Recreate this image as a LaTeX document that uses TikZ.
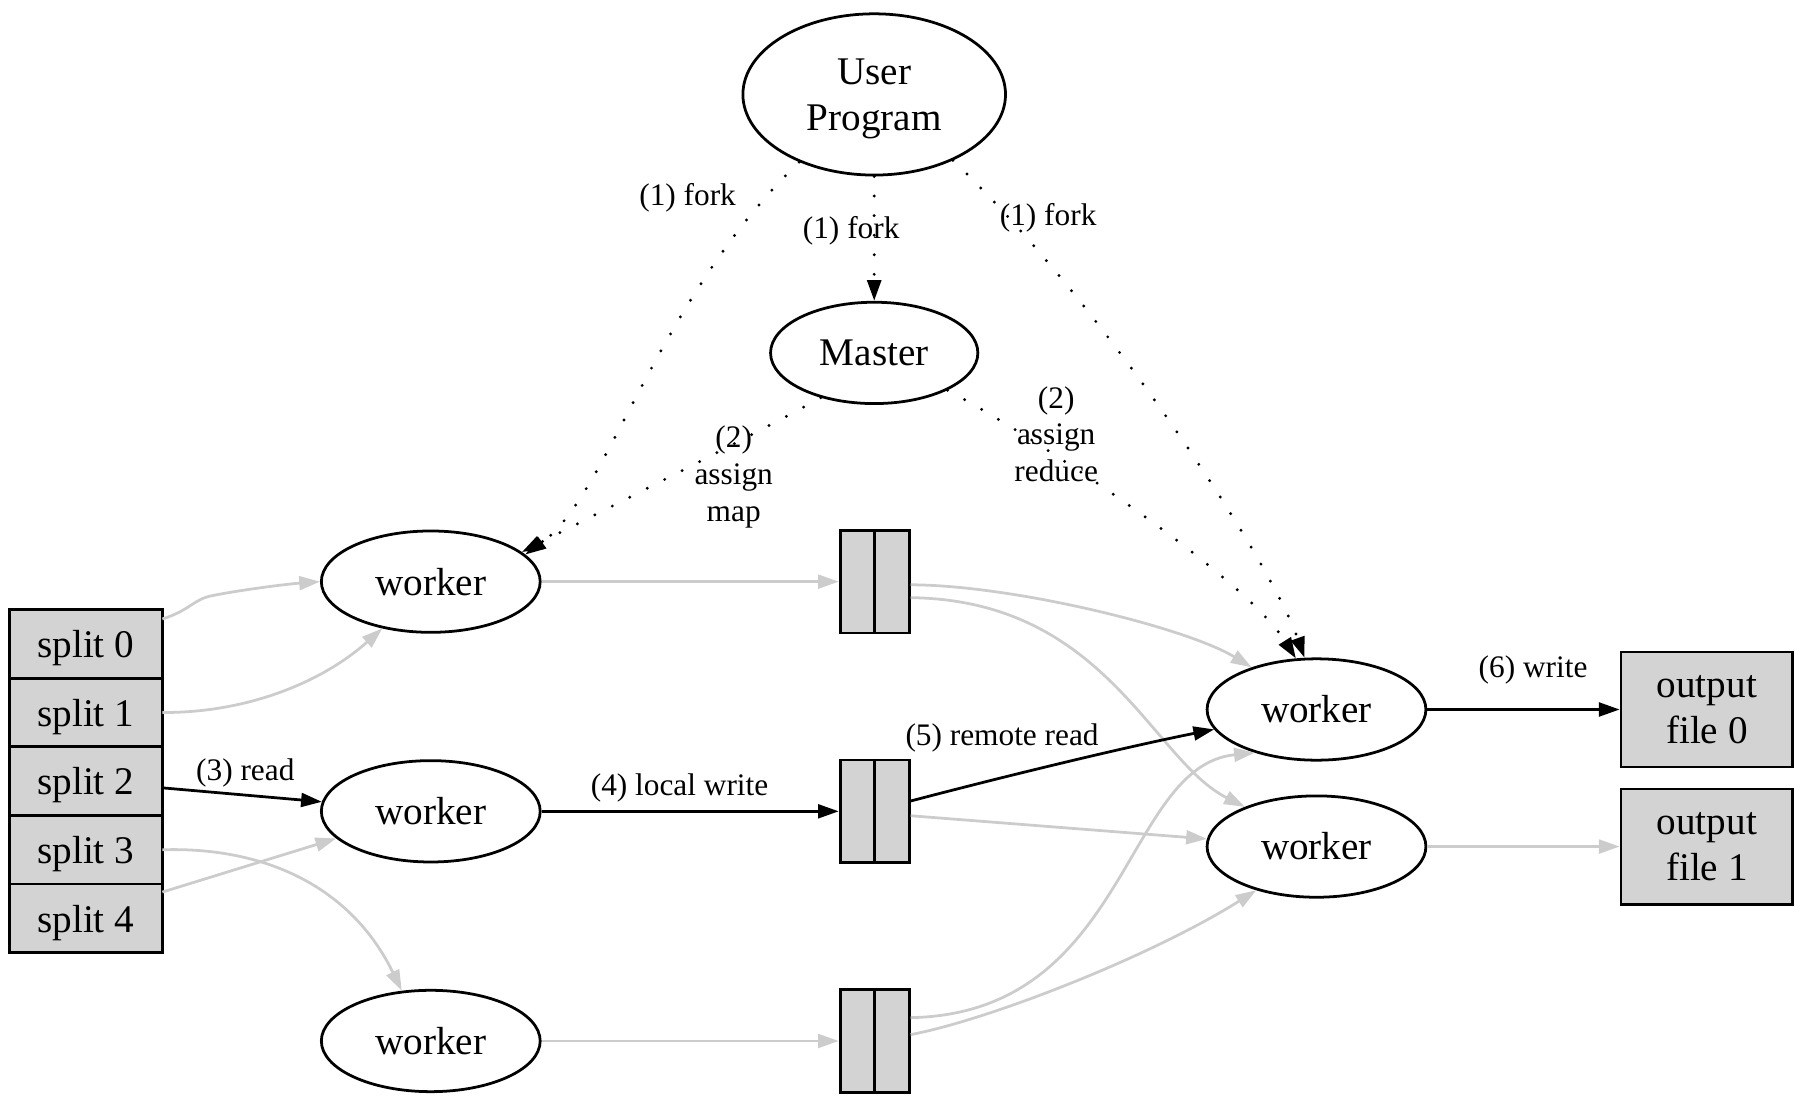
\documentclass[tikz,border=0pt]{standalone}
\usepackage{fontspec}
\setmainfont{Liberation Serif}
\usepackage{tikz}
\usetikzlibrary{positioning,shapes,arrows.meta}
\usepackage{xcolor}

\definecolor{boxgray}{RGB}{211,211,211}
\definecolor{edgegray}{RGB}{204,204,204}
\newcommand\nodetxt{\fontsize{17}{20}\selectfont}
\newcommand\edgetxt{\fontsize{13.6}{16}\selectfont}

\tikzset{
  proc/.style={ellipse, draw, line width=1.2pt, minimum width=95pt, minimum height=44pt, inner sep=0pt, font=\nodetxt},
  buf/.style={rectangle, draw, fill=boxgray, line width=1.2pt, minimum width=30pt, minimum height=44.5pt, inner sep=0pt},
  split/.style={rectangle, draw, fill=boxgray, line width=1.2pt, minimum width=66.5pt, minimum height=29.8pt, inner sep=0pt, outer sep=0pt, text depth=0pt, font=\nodetxt},
  outbox/.style={rectangle, draw, fill=boxgray, line width=1.2pt, minimum width=74.5pt, minimum height=50pt, inner sep=0pt, align=center, font=\nodetxt},
  lbl/.style={inner sep=0pt, align=center, font=\edgetxt},
  data/.style={line width=1.2pt, -{Triangle[length=9pt,width=6pt]}},
  dataoff/.style={data, edgegray},
  ctrl/.style={line width=1.4pt, line cap=round, dash pattern=on 0pt off 8.5pt, -{Triangle[length=9pt,width=6pt]}},
}

\begin{document}
\begin{tikzpicture}[x=0.5pt, y=-0.5pt]
        \useasboundingbox (0,0) rectangle (1568,962);
        % control
        \node[proc, minimum width=114pt, minimum height=70pt, align=center, text depth=0pt] (user) at (759,82) {User\\Program};
        \node[proc, minimum width=90pt, below=54pt of user] (master) {Master};
        % map side
        \node[proc] (wmap1) at (374,505) {worker};
        \node[proc, below=54.5pt of wmap1] (wmap2) {worker};
        \node[proc, below=54.5pt of wmap2] (wmap3) {worker};
        \node[buf, right=129pt of wmap1] (buf1) {};
        \node[buf, right=129pt of wmap2] (buf2) {};
        \node[buf, right=129pt of wmap3] (buf3) {};
        \foreach \b in {buf1,buf2,buf3}
            \draw[line width=1.2pt] (\b.north) -- (\b.south);
        % input files
        \node[split] (split0) at (74.5,559) {split 0};
        \node[split, below=0pt of split0] (split1) {split 1};
        \node[split, below=0pt of split1] (split2) {split 2};
        \node[split, below=0pt of split2] (split3) {split 3};
        \node[split, below=0pt of split3] (split4) {split 4};
        % reduce side
        \node[proc] (wred1) at (1143,616) {worker};
        \node[proc] (wred2) at (1143,735) {worker};
        \node[outbox, right=83.5pt of wred1] (out0) {output\\file 0};
        \node[outbox, right=83.5pt of wred2] (out1) {output\\file 1};

        % fork and assign
        \draw[ctrl] (user.222) .. controls (570,260) and (528,430) .. (wmap1.16);
        \draw[ctrl] (user) -- (master);
        \draw[ctrl] (user.-40) .. controls (950,255) and (1100,480) .. (wred1.103);
        \draw[ctrl] (master.220) .. controls (650,380) and (530,440) .. (wmap1.18);
        \draw[ctrl] (master.-27) .. controls (900,380) and (1080,500) .. (wred1.112);
        \node[lbl] (fork1) at (597,172) {(1) fork};
        \node[lbl] (fork2) at (739,200) {(1) fork};
        \node[lbl] (fork3) at (910,189) {(1) fork};
        \node[lbl] (assignmap) at (637,414) {(2)\\assign\\map};
        \node[lbl] (assignred) at (917,377) {(2)\\assign\\reduce};

        % input to map workers
        \draw[dataoff] (split0.18) .. controls (165,530) and (168,520) .. (185,517) .. controls (210,512) and (250,507) .. (wmap1.west);
        \draw[dataoff] (split1.east) .. controls (215,619) and (280,592) .. (wmap1.224);
        \draw[data] (split2.-5) -- (wmap2);
        \draw[dataoff] (split3.east) .. controls (230,735) and (305,770) .. (wmap3.120);
        \draw[dataoff] (split4.19) -- (wmap2.196);
        \node[lbl] (read) at (213,671) {(3) read};

        % map workers to local files
        \draw[dataoff] (wmap1) -- (buf1);
        \draw[data] (wmap2) -- (buf2);
        \draw[dataoff] (wmap3) -- (buf3);
        \node[lbl] (write) at (590,684) {(4) local write};

        % local files to reduce workers
        \draw[dataoff] (buf1.-5) .. controls (880,508) and (1030,545) .. (wred1.147);
        \draw[dataoff] (buf1.-24) .. controls (960,521) and (1000,660) .. (wred2.151);
        \draw[data] (buf2.16) .. controls (880,672) and (980,648) .. (wred1.191);
        \draw[dataoff] (buf2.-7) -- (wred2.176);
        \draw[dataoff] (buf3.33) .. controls (980,880) and (975,665) .. (wred1.215);
        \draw[dataoff] (buf3.10) .. controls (860,885) and (1000,830) .. (wred2.216);
        \node[lbl] (remote) at (870,641) {(5) remote read};

        % output
        \draw[data] (wred1) -- (out0);
        \draw[dataoff] (wred2) -- (out1);
        \node[lbl] (owrite) at (1331,582) {(6) write};
\end{tikzpicture}
\end{document}
